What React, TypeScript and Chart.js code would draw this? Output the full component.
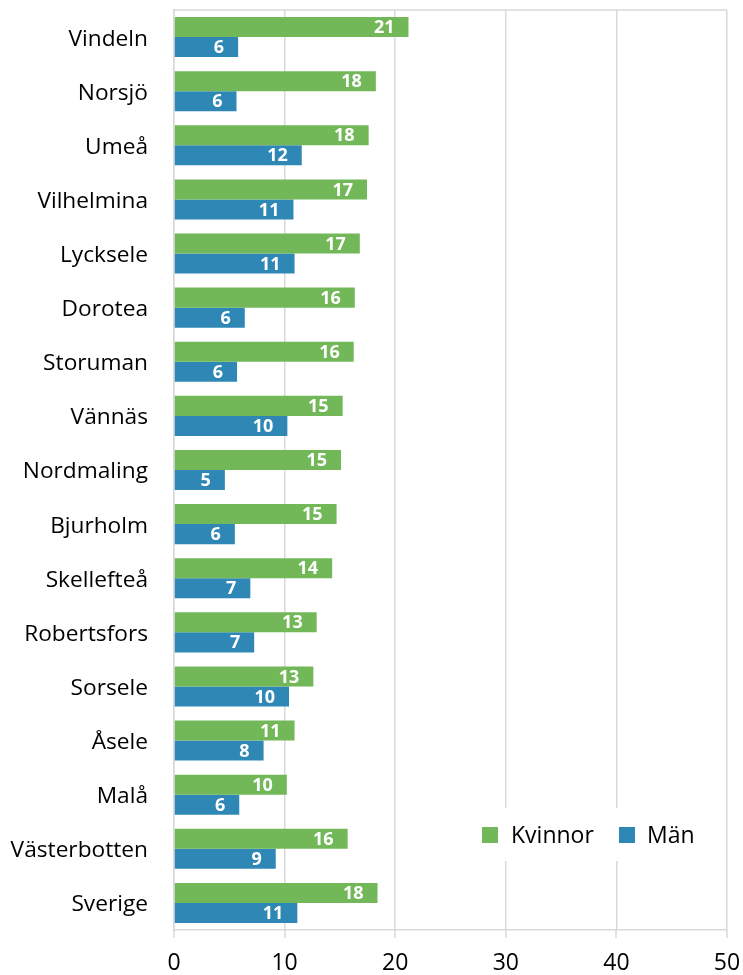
import React, { useEffect, useRef } from "react";
import { Chart, registerables } from "chart.js";

Chart.register(...registerables);

const categories = [
  "Vindeln", "Norsjö", "Umeå", "Vilhelmina", "Lycksele", "Dorotea", "Storuman",
  "Vännäs", "Nordmaling", "Bjurholm", "Skellefteå", "Robertsfors", "Sorsele",
  "Åsele", "Malå", "Västerbotten", "Sverige",
];
const kvinnor = [21.2, 18.25, 17.6, 17.45, 16.8, 16.35, 16.25, 15.25, 15.1, 14.7, 14.3, 12.9, 12.6, 10.9, 10.2, 15.7, 18.4];
const man = [5.8, 5.65, 11.55, 10.8, 10.9, 6.4, 5.7, 10.25, 4.6, 5.5, 6.9, 7.25, 10.4, 8.1, 5.9, 9.2, 11.15];
const seriesNames = ["Kvinnor", "Män"];
const seriesColors = ["#72b858", "#2f87b6"];
const xTicks = [0, 10, 20, 30, 40, 50];

const FONT = '"Open Sans", sans-serif';
const GRID = "#d9d9d9";

const frameAndLabels = {
  id: "frameAndLabels",
  beforeDatasetsDraw(chart: any) {
    const { ctx, chartArea } = chart;
    const xs = chart.scales.x;
    ctx.save();
    ctx.strokeStyle = GRID;
    ctx.lineWidth = 1.5;
    ctx.beginPath();
    ctx.moveTo(chartArea.left, chartArea.top);
    ctx.lineTo(chartArea.right, chartArea.top);
    xTicks.forEach((v) => {
      const px = Math.round(xs.getPixelForValue(v));
      ctx.moveTo(px, chartArea.bottom);
      ctx.lineTo(px, chartArea.bottom + 8);
    });
    ctx.stroke();
    ctx.restore();
  },
  afterDatasetsDraw(chart: any) {
    const { ctx } = chart;
    ctx.save();
    ctx.fillStyle = "#ffffff";
    ctx.font = `bold 18px ${FONT}`;
    ctx.textAlign = "right";
    ctx.textBaseline = "middle";
    chart.data.datasets.forEach((ds: any, i: number) => {
      const meta = chart.getDatasetMeta(i);
      meta.data.forEach((el: any, j: number) => {
        const v = Math.round(ds.data[j]);
        ctx.fillText(String(v), el.x - 14, el.y + 1);
      });
    });
    ctx.restore();
  },
  afterDraw(chart: any) {
    const { ctx, chartArea } = chart;
    const r = chartArea.right;
    const b = chartArea.bottom;
    ctx.save();
    ctx.fillStyle = "#ffffff";
    ctx.fillRect(r - 257, b - 122, 245, 53);
    const sq = 16;
    const cy = b - 95;
    const items = [
      { x: r - 245, tx: r - 216 },
      { x: r - 108, tx: r - 80 },
    ];
    ctx.font = `23px ${FONT}`;
    ctx.textAlign = "left";
    ctx.textBaseline = "middle";
    items.forEach((it, i) => {
      ctx.fillStyle = seriesColors[i];
      ctx.fillRect(it.x, cy - sq / 2, sq, sq);
      ctx.fillStyle = "#000000";
      ctx.fillText(seriesNames[i], it.tx, cy + 1);
    });
    ctx.restore();
  },
};

export default function App() {
  const ref = useRef<HTMLCanvasElement>(null);
  useEffect(() => {
    if (!ref.current) return;
    const chart = new Chart(ref.current, {
      type: "bar",
      data: {
        labels: categories,
        datasets: [
          { label: seriesNames[0], data: kvinnor, backgroundColor: seriesColors[0], categoryPercentage: 0.74, barPercentage: 1.0 },
          { label: seriesNames[1], data: man, backgroundColor: seriesColors[1], categoryPercentage: 0.74, barPercentage: 1.0 },
        ],
      },
      options: {
        indexAxis: "y",
        animation: false,
        responsive: false,
        layout: { padding: { top: 10, right: 16, left: 0, bottom: 0 } },
        plugins: { legend: { display: false }, tooltip: { enabled: false } },
        scales: {
          x: {
            min: 0,
            max: 50,
            afterBuildTicks(scale: any) {
              scale.ticks = xTicks.map((v) => ({ value: v }));
            },
            afterFit(scale: any) {
              scale.height = 45;
            },
            grid: { color: GRID, lineWidth: 1.5, tickLength: 20, drawTicks: true, tickColor: "rgba(0,0,0,0)" },
            border: { color: GRID, width: 1.5 },
            ticks: { color: "#000000", font: { family: FONT, size: 23 }, padding: 0, maxRotation: 0 },
          },
          y: {
            afterFit(scale: any) {
              scale.width = 174;
            },
            grid: { display: true, drawOnChartArea: false, drawTicks: true, tickLength: 26, tickColor: "rgba(0,0,0,0)", color: "rgba(0,0,0,0)" },
            border: { color: GRID, width: 1.5 },
            ticks: { color: "#000000", font: { family: FONT, size: 22.7, lineHeight: 0.8 }, padding: 0, autoSkip: false, labelOffset: 2 },
          },
        },
      },
      plugins: [frameAndLabels],
    });
    return () => chart.destroy();
  }, []);
  return (
    <div style={{ position: "absolute", left: 0, top: 0, width: 743, height: 975, background: "#fff" }}>
      <canvas ref={ref} width={743} height={975} style={{ display: "block" }} />
    </div>
  );
}
